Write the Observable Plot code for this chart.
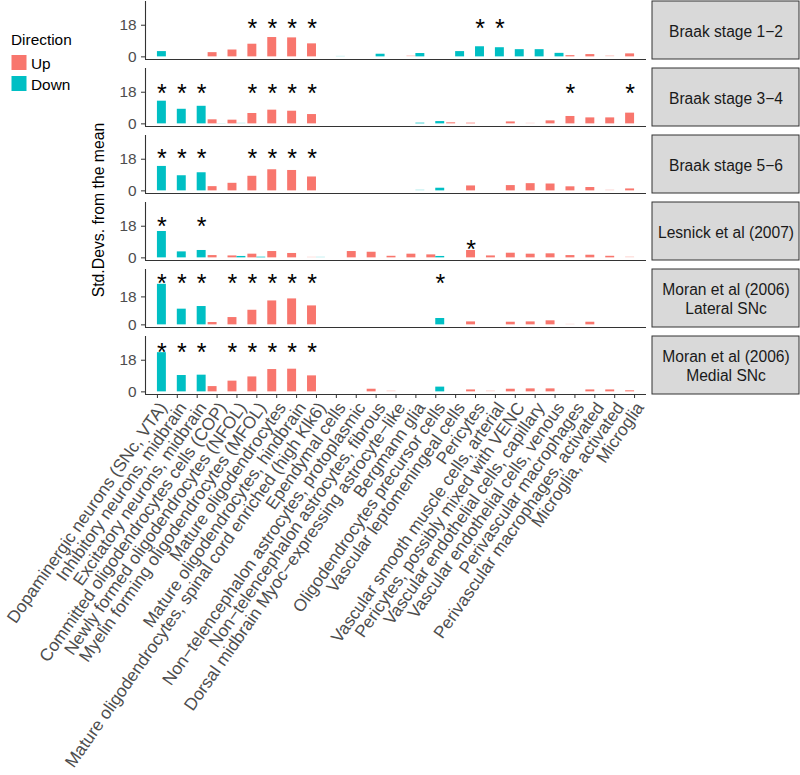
<!DOCTYPE html>
<html>
<head>
<meta charset="utf-8">
<script src="https://cdn.jsdelivr.net/npm/d3@7"></script>
<script src="https://cdn.jsdelivr.net/npm/@observablehq/plot@0.6"></script>
<style>
  html, body { margin: 0; padding: 0; background: #fff; }
  #chart { position: relative; width: 800px; height: 775px; overflow: hidden; font-family: "Liberation Sans", Arial, sans-serif; }
  #chart > svg { position: absolute; left: 0; }
</style>
</head>
<body>
<div id="chart"></div>
<script>
const categories = [
  "Dopaminergic neurons (SNc, VTA)",
  "Inhibitory neurons, midbrain",
  "Excitatory neurons, midbrain",
  "Committed oligodendrocytes cells (COP)",
  "Newly formed oligodendrocytes (NFOL)",
  "Myelin forming oligodendrocytes (MFOL)",
  "Mature oligodendrocytes",
  "Mature oligodendrocytes, hindbrain",
  "Mature oligodendrocytes, spinal cord enriched (high Klk6)",
  "Ependymal cells",
  "Non\u2212telencephalon astrocytes, protoplasmic",
  "Non\u2212telencephalon astrocytes, fibrous",
  "Dorsal midbrain Myoc\u2212expressing astrocyte\u2212like",
  "Bergmann glia",
  "Oligodendrocytes precursor cells",
  "Vascular leptomeningeal cells",
  "Pericytes",
  "Vascular smooth muscle cells, arterial",
  "Pericytes, possibly mixed with VENC",
  "Vascular endothelial cells, capillary",
  "Vascular endothelial cells, venous",
  "Perivascular macrophages",
  "Perivascular macrophages, activated",
  "Microglia, activated",
  "Microglia"
];

const datasets = [
  "Braak stage 1\u22122",
  "Braak stage 3\u22124",
  "Braak stage 5\u22126",
  "Lesnick et al (2007)",
  "Moran et al (2006)\nLateral SNc",
  "Moran et al (2006)\nMedial SNc"
];

const directions = ["Up", "Down"];

// Std.Devs. from the mean, one value per cell type (0 = no bar)
const upValues = [
  [0,0,0,2.4,3.9,7.2,11.0,10.8,7.4,0,0,0,0,0.7,0,0,0,0,0,0,0,0.7,1.3,0.7,1.7],
  [0,0,0,2.3,2.1,5.9,7.8,7.2,5.3,0,0,0,0,0,0,0.6,0.4,0,1.1,0.4,1.7,4.2,3.4,3.4,6.1],
  [0,0,0,2.4,4.3,8.3,12.0,11.6,7.9,0,0,0,0,0,0,0,2.8,0,3.0,4.1,3.9,2.3,1.9,0.5,1.1],
  [0,0,0,1.3,1.1,2.1,3.6,2.5,0.4,0,3.6,3.2,0.9,2.1,1.7,0,4.2,1.1,2.65,2.1,2.3,1.3,1.5,0.9,0.6],
  [0,0,0,1.5,4.7,9.4,15.4,16.7,12.2,0,0,0,0,0,0,0,1.9,0,1.7,1.9,2.6,0.4,1.7,0,0],
  [0,0,0,3.0,6.1,8.5,12.7,12.9,9.1,0,0,1.5,0.6,0,0,0,1.1,0.6,1.5,1.7,1.7,0,1.1,1.1,0.6]
];
const downValues = [
  [3.0,0,0,0,0,0,0,0,0,0.3,0,1.5,0,1.9,0,3.0,5.75,5.2,4.1,4.1,2.0,0,0,0,0],
  [12.9,8.3,10.0,0.2,0.4,0,0,0,0,0,0,0,0,0.4,1.3,0,0,0,0,0,0,0,0,0,0],
  [13.9,8.6,10.3,0,0,0,0,0,0,0,0,0,0,0.5,1.5,0,0,0,0,0,0,0,0,0,0],
  [15.0,3.4,4.2,0,0.8,0.4,0,0,0.4,0,0,0,0,0,0.8,0,0,0,0,0,0,0,0,0,0],
  [26.1,10.1,11.8,0,0,0,0,0,0,0,0,0,0,0,4.1,0,0,0,0,0,0,0,0,0,0],
  [22.3,9.3,9.5,0,0,0,0,0,0,0,0,0,0,0,2.7,0,0,0,0,0,0,0,0,0,0]
];
// faint (non-significant) bars, by cell type index
const faintUp = [[13,23],[19],[23],[8,24],[21],[12,17]];
const faintDown = [[9],[3,4],[13],[8],[],[]];

// significance stars: [cell type index, direction, y]
const stars = [
  [[5,"Up",19.3],[6,"Up",19.3],[7,"Up",19.3],[8,"Up",19.3],[16,"Down",19.3],[17,"Down",19.3]],
  [[0,"Down",20.5],[1,"Down",20.5],[2,"Down",20.5],[5,"Up",20.5],[6,"Up",20.5],[7,"Up",20.5],[8,"Up",20.5],[21,"Up",20.5],[24,"Up",20.5]],
  [[0,"Down",21.7],[1,"Down",21.7],[2,"Down",21.7],[5,"Up",21.7],[6,"Up",21.7],[7,"Up",21.7],[8,"Up",21.7]],
  [[0,"Down",21.0],[2,"Down",21.0],[16,"Up",8.2]],
  [[0,"Down",30.2],[1,"Down",30.2],[2,"Down",30.2],[4,"Up",30.2],[5,"Up",30.2],[6,"Up",30.2],[7,"Up",30.2],[8,"Up",30.2],[14,"Down",30.2]],
  [[0,"Down",25.8],[1,"Down",25.8],[2,"Down",25.8],[4,"Up",25.8],[5,"Up",25.8],[6,"Up",25.8],[7,"Up",25.8],[8,"Up",25.8]]
];

const yTicks = [0, 18];
const colors = ["#F8766D", "#00BFC4"];
const FONT = "'Liberation Sans', Arial, sans-serif";

const chart = document.getElementById("chart");
const PANEL_STEP = 67, PANEL_H = 58;

datasets.forEach((ds, k) => {
  const last = k === datasets.length - 1;
  const rows = [];
  for (let i = 0; i < categories.length; i++) {
    if (upValues[k][i] > 0) rows.push({i, dir: "Up", v: upValues[k][i], faint: faintUp[k].includes(i)});
    if (downValues[k][i] > 0) rows.push({i, dir: "Down", v: downValues[k][i], faint: faintDown[k].includes(i)});
  }
  const R = Math.max(30, 1.3 * d3.max(rows, d => d.v));
  const lo = -0.05 * R, hi = 1.05 * R;
  const height = last ? 775 - PANEL_STEP * k : PANEL_STEP;
  const marginTop = 1;
  const marginBottom = height - marginTop - PANEL_H;
  const bx1 = d => d.dir === "Up" ? d.i - 0.45 : d.i;
  const bx2 = d => d.dir === "Up" ? d.i : d.i + 0.45;
  const starRows = stars[k].map(([i, dir, y]) => ({i, dir, y}));

  const marks = [
    Plot.rectY(rows.filter(d => !d.faint), {x1: bx1, x2: bx2, y1: 0, y2: "v", fill: "dir"}),
    Plot.rectY(rows.filter(d => d.faint), {x1: bx1, x2: bx2, y1: 0, y2: "v", fill: "dir", fillOpacity: 0.3}),
    Plot.text(starRows, {x: d => d.dir === "Up" ? d.i - 0.225 : d.i + 0.225, y: "y", text: () => "*", fontSize: 25, fill: "#000", dy: 6.5}),
    Plot.ruleX([-0.6], {stroke: "#333", strokeWidth: 1.1}),
    Plot.ruleY([lo], {stroke: "#333", strokeWidth: 1.1}),
    Plot.axisY({ticks: yTicks, tickSize: 4, tickPadding: 5, fontSize: 15.4, stroke: "#333", fill: "#4d4d4d"}),
    (index, scales, values, dims) => {
      const g = d3.create("svg:g");
      g.append("rect")
        .attr("x", dims.width - dims.marginRight + 6)
        .attr("y", dims.marginTop)
        .attr("width", 147)
        .attr("height", dims.height - dims.marginTop - dims.marginBottom)
        .attr("fill", "#d9d9d9")
        .attr("stroke", "#333")
        .attr("stroke-width", 1);
      return g.node();
    },
    Plot.text([ds], {frameAnchor: "right", dx: 79.5, textAnchor: "middle", text: d => d, fontSize: 15.6, fill: "#1a1a1a", lineHeight: 1.2})
  ];
  if (last) {
    marks.push(
      Plot.axisX({ticks: d3.range(categories.length), tickSize: 4, tickFormat: () => "", stroke: "#333"}),
      Plot.text(d3.range(categories.length), {
        x: d => d, frameAnchor: "bottom", dy: 6, rotate: -55,
        textAnchor: "end", lineAnchor: "top",
        text: i => categories[i], fontSize: 17.3, fill: "#4d4d4d"
      })
    );
  }

  const svg = Plot.plot({
    width: 800, height, marginTop, marginBottom, marginLeft: 145, marginRight: 154,
    x: {domain: [-0.6, categories.length - 0.4], axis: null},
    y: {domain: [lo, hi], axis: null},
    color: {domain: directions, range: colors},
    style: {fontFamily: FONT, background: "transparent", overflow: "visible"},
    marks
  });
  svg.style.top = (PANEL_STEP * k) + "px";
  chart.appendChild(svg);
});

// Legend and y-axis title
const ov = d3.create("svg").attr("width", 140).attr("height", 400)
  .style("position", "absolute").style("left", "0px").style("top", "0px")
  .style("font-family", FONT);
ov.append("text").attr("x", 11).attr("y", 44.5).attr("font-size", 15.4).attr("fill", "#000").text("Direction");
directions.forEach((d, j) => {
  ov.append("rect").attr("x", 11.5).attr("y", 55 + j * 21).attr("width", 15).attr("height", 15).attr("fill", colors[j]);
  ov.append("text").attr("x", 31).attr("y", 69 + j * 21).attr("font-size", 15.4).attr("fill", "#000").text(d);
});
ov.append("text").attr("transform", "translate(103.5,210) rotate(-90)")
  .attr("text-anchor", "middle").attr("font-size", 15.8).attr("fill", "#000")
  .text("Std.Devs. from the mean");
chart.appendChild(ov.node());
</script>
</body>
</html>
